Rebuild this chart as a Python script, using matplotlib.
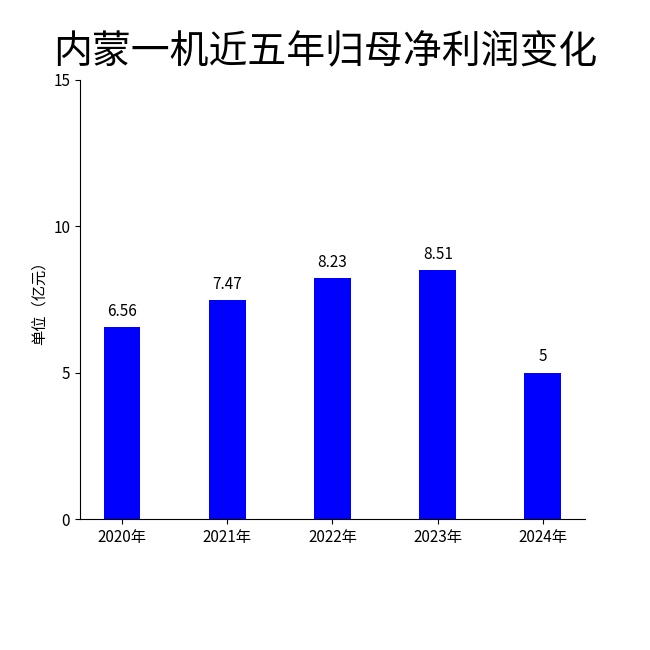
import matplotlib
matplotlib.use("Agg")
import matplotlib.pyplot as plt

plt.rcParams['font.family'] = ['Noto Sans CJK SC', 'DejaVu Sans']

years = ["2020年", "2021年", "2022年", "2023年", "2024年"]
profits = [6.56, 7.47, 8.23, 8.51, 5]
labels = ["6.56", "7.47", "8.23", "8.51", "5"]

fig = plt.figure(figsize=(6.5, 6.5), dpi=100)
ax = fig.add_axes([0.123, 0.2015, 0.777, 0.6755])
bars = ax.bar(range(len(years)), profits, width=0.35, color="#0000ff")
for b, t in zip(bars, labels):
    ax.text(b.get_x() + b.get_width() / 2, b.get_height() + 0.25, t,
            ha="center", va="bottom", fontsize=11)
ax.set_xlim(-0.4, 4.4)
ax.set_ylim(0, 15)
ax.set_yticks([0, 5, 10, 15])
ax.set_xticks(range(len(years)))
ax.set_xticklabels(years, fontsize=11)
ax.tick_params(axis="y", labelsize=11)
ax.set_ylabel("单位（亿元）", fontsize=11)
ax.spines["top"].set_visible(False)
ax.spines["right"].set_visible(False)
fig.text(0.5, 0.92, "内蒙一机近五年归母净利润变化", ha="center", va="center", fontsize=28)
fig.savefig("out.png")
plt.close(fig)
